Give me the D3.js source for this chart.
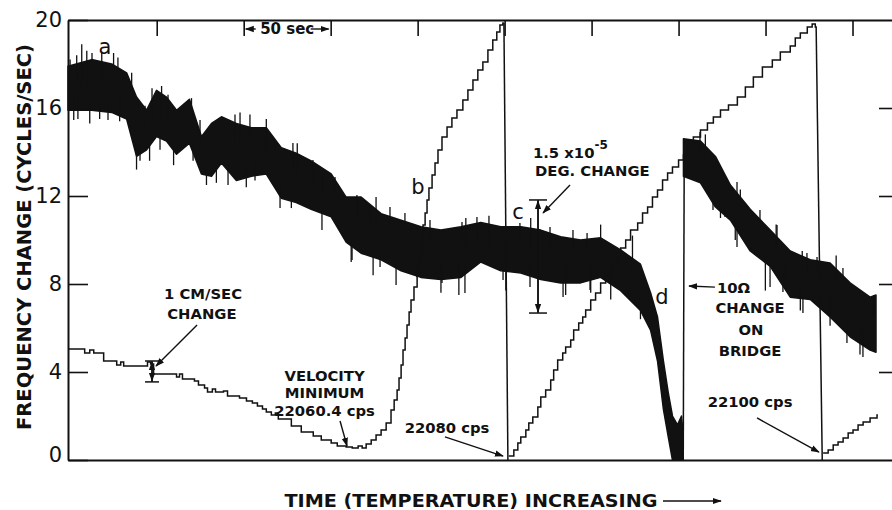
<!DOCTYPE html>
<html>
<head>
<meta charset="utf-8">
<script src="https://cdn.jsdelivr.net/npm/d3@7"></script>
<style>
  html, body { margin: 0; padding: 0; background: #fff; }
  #chart { width: 892px; height: 510px; overflow: hidden; }
  #chart text { font-family: "DejaVu Sans", sans-serif; fill: #111; }
</style>
</head>
<body>
<div id="chart"></div>
<script>
// axis ticks
const freqTicks = [0, 4, 8, 12, 16, 20];
const timeTicks = [50, 100, 150, 200, 250, 300, 350, 400, 450];

// frequency trace, recorder band: [time (s), low, high] in cycles/sec
const freqBand1 = [
  [-1, 15.9, 17.9], [12.6, 15.9, 18.2], [24.1, 15.8, 18.0], [32.7, 15.5, 17.6],
  [38.4, 13.8, 16.5], [44.2, 14.1, 15.9], [49.9, 14.7, 16.8], [55.6, 14.5, 16.5],
  [61.4, 13.9, 15.9], [68.8, 14.4, 16.4], [75.7, 13.0, 14.7], [81.5, 12.9, 15.3],
  [87.2, 13.5, 15.6], [95.8, 12.7, 15.3], [104.4, 12.9, 15.1], [113.0, 13.0, 15.1],
  [121.6, 11.9, 14.2], [130.2, 11.7, 13.95], [138.8, 11.4, 13.6], [150.3, 11.05, 13.0],
  [158.9, 9.9, 11.95], [167.5, 9.4, 11.95], [179.0, 9.1, 11.2], [190.5, 8.6, 10.9],
  [201.9, 8.3, 10.6], [213.4, 8.2, 10.45], [224.9, 8.3, 10.6], [236.3, 9.0, 10.8],
  [247.8, 8.6, 10.6], [259.3, 8.5, 10.6], [270.8, 8.2, 10.45], [282.2, 8.05, 10.15],
  [293.7, 8.05, 10.0], [305.2, 8.3, 10.1], [316.7, 7.7, 9.55], [328.1, 6.8, 8.9],
  [333.9, 5.9, 7.6], [337.9, 4.5, 6.5], [341.3, 2.3, 4.5], [344.2, 1.0, 3.0],
  [346.5, 0, 2.0], [349.4, 0, 1.6], [351.7, 0, 2.0], [352.6, 0, 1.2]
];
const freqBand2 = [
  [352.8, 12.9, 14.6], [362.6, 12.6, 14.5], [371.2, 11.5, 13.8], [379.8, 10.9, 12.5],
  [391.2, 9.5, 11.4], [402.7, 8.8, 10.45], [414.2, 7.4, 9.5], [425.7, 7.3, 9.1],
  [437.1, 6.5, 8.95], [448.6, 5.6, 8.05], [460.1, 5.0, 7.4], [463.5, 4.9, 7.5]
];
// single pen swings outside the band: [time, from, to]
const freqSpikes = [
  // upward
  [0.2, 17, 18.2], [4.0, 17, 18.4], [6.9, 17, 18.9], [9.8, 17, 18.6], [12.8, 17, 18.5],
  [18.4, 17, 18.5], [25.2, 17, 18.5], [27.7, 17, 18.3], [35.6, 16.5, 17.6], [43.3, 15, 16.1],
  [47.3, 15.5, 16.9], [52.8, 15.5, 17.0], [56.5, 15.5, 16.6], [70.0, 15.5, 16.45],
  [74.9, 14.2, 15.45], [95.0, 14.5, 15.7], [97.9, 14.5, 15.8], [103.6, 14.5, 15.7],
  [113.0, 14, 15.5], [118.0, 13.5, 14.5], [128.3, 13, 14.41], [130.8, 13, 14.4],
  [139.8, 12.5, 13.64], [145.6, 12, 13.05], [152.5, 12, 12.86], [165.1, 11, 12.05],
  [172.6, 10.5, 11.5], [176.1, 10.5, 11.95], [184.1, 10.5, 11.5], [192.7, 10.3, 11.23],
  [207.1, 10, 10.91], [225.5, 9.8, 10.82], [227.7, 9.5, 11.0], [234.1, 10, 11.05],
  [241.0, 9.5, 11.1], [258.8, 9.8, 10.77], [265.0, 9.5, 11.0], [276.1, 9.6, 10.59],
  [289.3, 9.5, 10.45], [297.4, 9.4, 10.32], [305.2, 9, 10.7], [323.5, 8.5, 10.2],
  [362.3, 13.8, 14.9], [365.4, 13.5, 14.8], [383.6, 11.8, 12.64], [385.5, 11.5, 12.3],
  [396.8, 10.5, 11.36], [406.1, 9.5, 10.7], [406.6, 9.8, 10.68], [421.1, 8.5, 9.5],
  [423.8, 8.6, 9.41], [429.6, 8.5, 9.23], [440.6, 8, 9.3], [444.5, 7.8, 8.73],
  [461.8, 6.5, 7.41], [462.4, 6.5, 7.5],
  // downward
  [2.3, 16.5, 15.45], [4.7, 16.5, 15.5], [11.5, 16.5, 15.3], [17.2, 16.5, 15.5],
  [22.0, 16.5, 15.45], [28.7, 16.5, 15.4], [38.4, 14.5, 13.2], [40.4, 14.5, 13.6],
  [45.9, 14.5, 13.6], [51.9, 15, 14.1], [59.7, 14.5, 13.4], [70.9, 14.5, 13.6],
  [78.6, 13.5, 12.5], [84.3, 13.5, 12.6], [91.0, 13.5, 12.5], [101.5, 13.5, 12.4],
  [106.5, 13.5, 12.7], [120.9, 12.5, 11.45], [127.4, 12.5, 11.45], [145.0, 11.5, 10.45],
  [161.8, 10, 9.0], [162.3, 10, 9.09], [174.4, 9.5, 8.4], [178.4, 9.5, 8.77],
  [187.6, 9, 7.95], [199.6, 9, 8.32], [213.4, 9, 7.6], [214.0, 9, 8.05],
  [223.7, 9, 7.5], [227.2, 9, 7.59], [249.1, 9, 8.18], [250.7, 9, 7.7],
  [264.6, 9, 7.86], [283.6, 8.7, 7.41], [285.1, 9, 7.5], [299.1, 8.7, 7.73],
  [299.5, 9, 7.6], [311.0, 8.5, 7.3], [328.1, 7.5, 6.4], [369.8, 12, 11.36],
  [374.1, 12, 11.0], [376.7, 11.6, 11.05], [382.6, 11, 10.0], [383.6, 10.5, 9.68],
  [399.9, 9, 7.7], [402.6, 9, 7.86], [410.0, 8.5, 7.64], [411.3, 9, 7.95],
  [420.0, 8, 6.8], [421.5, 7.5, 6.68], [437.1, 7.5, 6.1], [446.8, 6.5, 5.32],
  [454.3, 6, 4.8], [456.0, 5.8, 4.68]
];
// 10 ohm bridge change: [time, from, to]
const bridgeStep = [352.7, 0, 14.5];

// velocity staircases: [time, cycles/sec]
const velocityA = [
  [-1, 5.05], [8.6, 4.86], [11.5, 5.0], [13.8, 4.86], [19.5, 4.5], [27.0, 4.32],
  [29.3, 4.45], [31.0, 4.27], [44.7, 4.45], [46.5, 4.36], [48.2, 3.91], [61.4, 3.77],
  [63.1, 3.91], [64.8, 3.68], [71.7, 3.59], [74.0, 3.41], [77.5, 3.27], [79.2, 3.09],
  [82.0, 3.23], [83.8, 3.09], [88.4, 3.14], [90.7, 2.91], [97.6, 2.82], [101.6, 2.68],
  [105.0, 2.59], [107.9, 2.45], [110.8, 2.32], [113.0, 2.18], [115.9, 2.05], [118.2, 2.14],
  [119.9, 1.86], [127.4, 1.55], [133.1, 1.27], [140.0, 1.09], [144.6, 0.91], [150.3, 0.77],
  [153.8, 0.64], [158.9, 0.59], [162.4, 0.55], [165.8, 0.64], [168.1, 0.55], [170.4, 0.73],
  [173.3, 0.91], [176.1, 1.14], [179.0, 1.36], [181.9, 1.68], [184.7, 2.27], [186.5, 2.73],
  [188.2, 3.18], [189.3, 3.73], [190.5, 4.32], [191.6, 5.0], [192.8, 5.55], [193.9, 6.14],
  [195.1, 6.73], [196.2, 7.27], [197.9, 7.86], [199.7, 8.55], [201.4, 9.18], [202.5, 10.0],
  [203.1, 10.68], [204.3, 11.23], [205.4, 11.82], [206.5, 12.36], [208.3, 12.95], [210.0, 13.5],
  [211.7, 14.09], [214.0, 14.68], [216.9, 15.14], [219.7, 15.55], [222.6, 15.91], [226.0, 16.36],
  [228.9, 16.82], [231.8, 17.27], [234.6, 17.73], [237.5, 18.09], [240.4, 18.64], [243.2, 19.09],
  [245.5, 19.45], [247.3, 19.77], [249.0, 19.86], [249.6, 19.86]
];
const velocityB = [
  [252.4, 0.18], [255.3, 0.45], [257.6, 0.77], [259.3, 1.05], [262.2, 1.36], [263.9, 1.68],
  [266.2, 1.95], [269.1, 2.41], [270.8, 2.86], [273.6, 3.18], [276.5, 3.64], [278.2, 4.09],
  [280.5, 4.55], [283.4, 4.86], [285.1, 5.14], [288.0, 5.45], [289.7, 5.91], [292.6, 6.23],
  [294.9, 6.5], [296.6, 6.82], [299.5, 7.27], [302.3, 7.59], [305.2, 8.05], [308.1, 8.41],
  [311.0, 8.86], [313.8, 9.23], [316.7, 9.64], [319.6, 10.0], [322.4, 10.45], [326.5, 10.77],
  [329.3, 11.23], [332.2, 11.5], [335.0, 11.95], [337.9, 12.27], [340.8, 12.73], [343.7, 13.05],
  [346.5, 13.32], [350.0, 13.64], [352.8, 13.86], [355.7, 14.23], [358.5, 14.68], [362.6, 15.0],
  [366.6, 15.32], [370.0, 15.59], [374.1, 15.91], [378.7, 16.14], [383.8, 16.5], [388.4, 16.95],
  [393.0, 17.41], [398.2, 17.86], [403.9, 18.18], [408.5, 18.55], [414.2, 18.82], [417.1, 19.18],
  [420.0, 19.41], [424.0, 19.68], [426.8, 19.82], [428.6, 19.68], [429.1, 19.64]
];
const velocityC = [
  [433.1, 0.32], [436.0, 0.45], [438.9, 0.68], [441.7, 0.82], [444.6, 1.0], [447.5, 1.23],
  [450.3, 1.36], [453.2, 1.59], [456.1, 1.73], [460.1, 1.91], [464.1, 2.05], [464.6, 2.05]
];
// pen flyback at full scale: [t0, f0, t1, f1]
const resets = [[249.6, 19.86, 251.9, 0], [429.1, 19.64, 432.6, 0]];

// labels on the traces: [text, time, cycles/sec]
const traceLetters = [["a", 20.3, 18.77], ["b", 200.2, 12.41], ["c", 257.7, 11.27], ["d", 340.5, 7.41]];

// notes: [text, time, cycles/sec, anchor]
const notes = [
  ["1 CM/SEC", 76.6, 7.55, "middle"], ["CHANGE", 76.0, 6.68, "middle"],
  ["VELOCITY", 146.5, 3.82, "middle"], ["MINIMUM", 146.5, 3.05, "middle"],
  ["22060.4 cps", 146.5, 2.27, "middle"], ["22080 cps", 216.9, 1.5, "middle"],
  ["DEG. CHANGE", 267.5, 13.18, "start"],
  ["10Ω", 372.1, 7.86, "start"], ["CHANGE", 391.1, 6.91, "middle"],
  ["ON", 391.6, 5.91, "middle"], ["BRIDGE", 391.1, 5.0, "middle"],
  ["22100 cps", 391.1, 2.64, "middle"]
];
// pointer arrows: [t0, f0, t1, f1], head at the second point
const pointers = [
  [73.2, 6.14, 49.6, 4.27], [155.4, 1.77, 159.4, 0.64], [215.7, 1.05, 249.1, 0.18],
  [287.6, 12.5, 272.1, 11.23], [370.9, 7.86, 356.0, 7.91], [395.1, 1.91, 430.7, 0.36]
];
// calibration bars: [time, top, bottom, half width px]
const calBars = [[47.3, 4.5, 3.55, 7], [269.2, 11.82, 6.68, 9]];

const width = 892, height = 510;
let svg = null;

function initSvg() {
    svg = d3.select("#chart").append("svg")
        .attr("width", width)
        .attr("height", height);
    svg.append("rect").attr("width", width).attr("height", height).attr("fill", "#fff");

    const defs = svg.append("defs");
    defs.append("marker")
        .attr("id", "head")
        .attr("viewBox", "0 0 10 10")
        .attr("refX", 9).attr("refY", 5)
        .attr("markerWidth", 9).attr("markerHeight", 9)
        .attr("markerUnits", "userSpaceOnUse")
        .attr("orient", "auto")
        .append("path")
        .attr("d", "M0,1.5 L10,5 L0,8.5 Z")
        .attr("fill", "#111");
}

function drawChart() {
    const x = d3.scaleLinear().domain([-1, 475]).range([68, 896]);
    const y = d3.scaleLinear().domain([0, 20]).range([460, 20]);

    // 坐标轴
    const left = svg.append("g")
        .attr("transform", "translate(68,0)")
        .call(d3.axisLeft(y).tickValues(freqTicks).tickSizeInner(-20).tickSizeOuter(0).tickPadding(6));
    left.selectAll("text").attr("font-size", 21).attr("fill", "#111");
    left.selectAll("text").filter(d => d === 0).attr("dy", "0.05em");

    svg.append("g")
        .attr("transform", "translate(896,0)")
        .call(d3.axisRight(y).tickValues(freqTicks.slice(1, 5)).tickSizeInner(-17).tickSizeOuter(0).tickFormat(""));

    svg.append("g")
        .attr("transform", "translate(0,20)")
        .call(d3.axisTop(x).tickValues(timeTicks).tickSizeInner(-16).tickSizeOuter(0).tickFormat(""));

    svg.append("g")
        .attr("transform", "translate(0,460)")
        .call(d3.axisBottom(x).tickValues([]).tickSizeOuter(0));

    svg.selectAll(".domain").attr("stroke", "#111").attr("stroke-width", 2);
    svg.selectAll(".tick line").attr("stroke", "#111").attr("stroke-width", 1.6);

    // 频率记录带
    const band = d3.area()
        .x(d => x(d[0]))
        .y0(d => y(d[1]))
        .y1(d => y(d[2]));
    [freqBand1, freqBand2].forEach(b => {
        svg.append("path")
            .datum(b)
            .attr("d", band)
            .attr("fill", "#111")
            .attr("stroke", "#111")
            .attr("stroke-width", 1.5)
            .attr("stroke-linejoin", "round");
    });

    svg.append("g").selectAll("line")
        .data(freqSpikes)
        .join("line")
        .attr("x1", d => x(d[0])).attr("x2", d => x(d[0]))
        .attr("y1", d => y(d[1])).attr("y2", d => y(d[2]))
        .attr("stroke", "#111")
        .attr("stroke-width", 1.3);

    svg.append("line")
        .attr("x1", x(bridgeStep[0])).attr("x2", x(bridgeStep[0]) + 1)
        .attr("y1", y(bridgeStep[1])).attr("y2", y(bridgeStep[2]))
        .attr("stroke", "#111")
        .attr("stroke-width", 1.5);

    // 速度阶梯曲线
    const steps = d3.line()
        .x(d => x(d[0]))
        .y(d => y(d[1]))
        .curve(d3.curveStepAfter);
    [velocityA, velocityB, velocityC].forEach(v => {
        svg.append("path")
            .datum(v)
            .attr("d", steps)
            .attr("fill", "none")
            .attr("stroke", "#111")
            .attr("stroke-width", 1.5);
    });

    svg.append("g").selectAll("line")
        .data(resets)
        .join("line")
        .attr("x1", d => x(d[0])).attr("y1", d => y(d[1]))
        .attr("x2", d => x(d[2])).attr("y2", d => y(d[3]))
        .attr("stroke", "#111")
        .attr("stroke-width", 1.5);

    // 标定条
    calBars.forEach(c => {
        const cx = x(c[0]);
        const g = svg.append("g").attr("stroke", "#111").attr("stroke-width", 1.5);
        g.append("line").attr("x1", cx).attr("x2", cx).attr("y1", y(c[1])).attr("y2", y(c[2]));
        g.append("line").attr("x1", cx - c[3]).attr("x2", cx + c[3]).attr("y1", y(c[1])).attr("y2", y(c[1]));
        g.append("line").attr("x1", cx - c[3]).attr("x2", cx + c[3]).attr("y1", y(c[2])).attr("y2", y(c[2]));
        const mid = (y(c[1]) + y(c[2])) / 2;
        g.append("line").attr("x1", cx).attr("x2", cx).attr("y1", mid).attr("y2", y(c[1]) + 1).attr("marker-end", "url(#head)");
        g.append("line").attr("x1", cx).attr("x2", cx).attr("y1", mid).attr("y2", y(c[2]) - 1).attr("marker-end", "url(#head)");
    });

    // 注释
    svg.append("g").selectAll("text")
        .data(traceLetters)
        .join("text")
        .attr("x", d => x(d[1]))
        .attr("y", d => y(d[2]))
        .attr("text-anchor", "middle")
        .attr("dominant-baseline", "central")
        .attr("font-size", 21)
        .text(d => d[0]);

    svg.append("g").selectAll("text")
        .data(notes)
        .join("text")
        .attr("x", d => x(d[1]))
        .attr("y", d => y(d[2]))
        .attr("text-anchor", d => d[3])
        .attr("dominant-baseline", "central")
        .attr("font-size", 14.8)
        .attr("font-weight", "bold")
        .text(d => d[0]);

    const deg = svg.append("text")
        .attr("x", x(266.3))
        .attr("y", y(14.0))
        .attr("dominant-baseline", "central")
        .attr("font-size", 14.8)
        .attr("font-weight", "bold");
    deg.append("tspan").text("1.5 x10");
    deg.append("tspan").attr("dy", -7).attr("font-size", 12).text("-5");

    svg.append("g").selectAll("line")
        .data(pointers)
        .join("line")
        .attr("x1", d => x(d[0])).attr("y1", d => y(d[1]))
        .attr("x2", d => x(d[2])).attr("y2", d => y(d[3]))
        .attr("stroke", "#111")
        .attr("stroke-width", 1.4)
        .attr("marker-end", "url(#head)");

    // 50 sec 刻度说明
    svg.append("text")
        .attr("x", (x(100) + x(150)) / 2)
        .attr("y", 29)
        .attr("text-anchor", "middle")
        .attr("dominant-baseline", "central")
        .attr("font-size", 15)
        .attr("font-weight", "bold")
        .text("50 sec");
    [[x(100) + 12, x(100) + 2], [x(150) - 20, x(150) - 2]].forEach(a => {
        svg.append("line")
            .attr("x1", a[0]).attr("x2", a[1])
            .attr("y1", 29).attr("y2", 29)
            .attr("stroke", "#111").attr("stroke-width", 1.4)
            .attr("marker-end", "url(#head)");
    });

    // 轴标题
    svg.append("text")
        .attr("transform", "translate(24,237) rotate(-90)")
        .attr("text-anchor", "middle")
        .attr("dominant-baseline", "central")
        .attr("font-size", 19)
        .attr("font-weight", "bold")
        .attr("textLength", 386)
        .attr("lengthAdjust", "spacingAndGlyphs")
        .text("FREQUENCY  CHANGE  (CYCLES/SEC)");

    svg.append("text")
        .attr("x", 471)
        .attr("y", 501)
        .attr("text-anchor", "middle")
        .attr("dominant-baseline", "central")
        .attr("font-size", 17)
        .attr("font-weight", "bold")
        .attr("textLength", 373)
        .attr("lengthAdjust", "spacingAndGlyphs")
        .text("TIME (TEMPERATURE) INCREASING");
    svg.append("line")
        .attr("x1", 663).attr("x2", 721)
        .attr("y1", 501).attr("y2", 501)
        .attr("stroke", "#111").attr("stroke-width", 1.6)
        .attr("marker-end", "url(#head)");
}

initSvg();
drawChart();
</script>
</body>
</html>
